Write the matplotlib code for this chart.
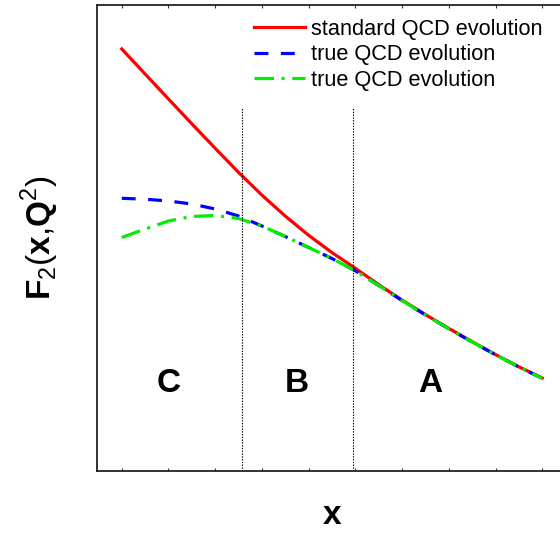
import numpy as np
import matplotlib
matplotlib.use("Agg")
import matplotlib.pyplot as plt

plt.rcParams['font.family'] = ['Liberation Sans', 'DejaVu Sans']
plt.rcParams['mathtext.fontset'] = 'custom'
plt.rcParams['mathtext.rm'] = 'Liberation Sans'
plt.rcParams['mathtext.bf'] = 'Liberation Sans:bold'
plt.rcParams['lines.scale_dashes'] = False

# curve values (arbitrary units)
x = [0, 0.5, 1, 1.5, 2, 2.5, 3, 3.5, 4, 4.5, 5, 5.5, 6, 6.5, 7, 7.5, 8, 8.5, 9]
f2_standard = [4.22, 3.97, 3.72, 3.472, 3.227, 2.986, 2.759, 2.549, 2.357, 2.184,
               2.027, 1.863, 1.709, 1.564, 1.426, 1.293, 1.164, 1.042, 0.93]
f2_true_a = [2.727, 2.718, 2.70, 2.67, 2.62, 2.55, 2.45, 2.345, 2.235, 2.125,
             2.002, 1.855, 1.704, 1.56, 1.423, 1.29, 1.162, 1.04, 0.927]
f2_true_b = [2.335, 2.42, 2.50, 2.545, 2.555, 2.525, 2.45, 2.345, 2.235, 2.125,
             2.002, 1.855, 1.704, 1.56, 1.423, 1.29, 1.162, 1.04, 0.927]

boundaries = [2.57, 4.96]
regions = ['C', 'B', 'A']
region_x = [1.0, 3.75, 6.6]
region_y = 0.875
labels = ['standard QCD evolution', 'true QCD evolution', 'true QCD evolution']

fig = plt.figure(figsize=(5.6, 5.34), dpi=100)
ax = fig.add_axes([97/560, 1-471/534, 470/560, 466/534])

ax.plot(x, f2_standard, color='#ff0000', lw=2.3, label=labels[0])
ax.plot(x, f2_true_a, color='#0000ff', lw=2.3, dashes=(10, 9), label=labels[1])
ax.plot(x, f2_true_b, color='#00ee00', lw=2.3, dashes=(14, 5.5, 2.2, 5.5), label=labels[2])

for b in boundaries:
    ax.vlines(b, 0, 3.64, color='black', lw=0.8, linestyles=(0, (1, 1)))

for r, rx in zip(regions, region_x):
    ax.text(rx, region_y, r, fontsize=24, fontweight='bold', ha='center', va='center')

ax.set_xlim(-0.53, 9.53)
ax.set_ylim(0, 4.66)
ax.set_xticks(np.arange(0, 10))
ax.set_yticks([])
ax.tick_params(axis='x', direction='in', length=2.5, width=0.8, top=True,
               labelbottom=False, color='#333333')
for s in ax.spines.values():
    s.set_linewidth(1.3)
    s.set_color('#222222')

ax.set_xlabel('x', fontsize=24, fontweight='bold', labelpad=21)
ax.set_ylabel(r'$\mathbf{F}_2(\mathbf{x}{,}\mathbf{Q}^2)$', fontsize=24, labelpad=26)

fig.legend(loc='upper left', bbox_to_anchor=(254/560, 1-18.5/534), frameon=False,
           fontsize=15.7, handlelength=2.35, handletextpad=0.25, labelspacing=0.22,
           borderpad=0, borderaxespad=0)

fig.savefig('out.png', dpi=100)
